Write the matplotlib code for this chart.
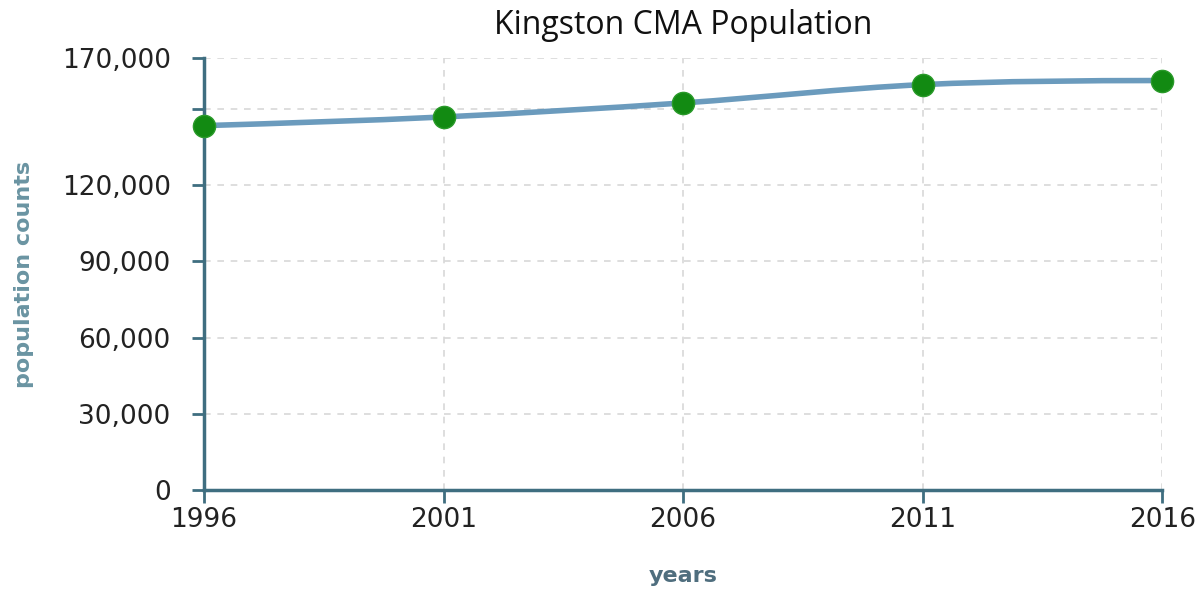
import numpy as np
import matplotlib.pyplot as plt
from matplotlib.path import Path
from matplotlib.patches import PathPatch
from matplotlib.ticker import FuncFormatter

plt.rcParams['font.family'] = 'DejaVu Sans'

years = [1996, 2001, 2006, 2011, 2016]
population = [143416, 146838, 152358, 159561, 161175]
y_ticks = [0, 30000, 60000, 90000, 120000, 150000, 170000]
y_labelled = [0, 30000, 60000, 90000, 120000, 170000]


def monotone_path(x, y):
    # cubic bezier path with monotone (Fritsch-Carlson) tangents
    x = np.asarray(x, float)
    y = np.asarray(y, float)
    h = np.diff(x)
    s = np.diff(y) / h
    m = np.zeros_like(y)
    for i in range(1, len(y) - 1):
        if s[i - 1] * s[i] <= 0:
            m[i] = 0
        else:
            m[i] = (s[i - 1] * h[i] + s[i] * h[i - 1]) / (h[i - 1] + h[i])
            m[i] = np.sign(s[i]) * min(abs(m[i]), 3 * min(abs(s[i - 1]), abs(s[i])))
    # endpoint tangents like d3 curveMonotoneX
    m[0] = (3 * s[0] - m[1]) / 2
    m[-1] = (3 * s[-1] - m[-2]) / 2
    verts = [(x[0], y[0])]
    codes = [Path.MOVETO]
    for i in range(len(x) - 1):
        d = h[i] / 3
        verts += [(x[i] + d, y[i] + m[i] * d),
                  (x[i + 1] - d, y[i + 1] - m[i + 1] * d),
                  (x[i + 1], y[i + 1])]
        codes += [Path.CURVE4] * 3
    return Path(verts, codes)


fig = plt.figure(figsize=(12, 5.96), dpi=100)
ax = fig.add_axes([0.17, 0.178, 0.7985, 0.7245])

axis_col = '#3f6e80'
ax.set_xlim(1996, 2016)
ax.set_ylim(0, 170000)

# dashed grid
for yv in y_ticks[1:]:
    ax.axhline(yv, color='#d8d8d8', lw=1.2, ls=(0, (4, 4)), zorder=0)
for xv in years[1:]:
    ax.axvline(xv, color='#d8d8d8', lw=1.2, ls=(0, (4, 4)), zorder=0)

ax.add_patch(PathPatch(monotone_path(years, population), fill=False,
                       edgecolor='#6b9bbd', lw=4, capstyle='round', zorder=2))
ax.plot(years, population, 'o', ms=16, color='#128a12',
        markeredgecolor='#2a9a2a', markeredgewidth=1, zorder=3, clip_on=False)

ax.set_xticks(years)
ax.set_yticks(y_ticks)
ax.yaxis.set_major_formatter(FuncFormatter(
    lambda v, p: f'{int(v):,}' if v in y_labelled else ''))

for side in ['top', 'right']:
    ax.spines[side].set_visible(False)
for side in ['left', 'bottom']:
    ax.spines[side].set_color(axis_col)
    ax.spines[side].set_linewidth(2.5)

ax.tick_params(axis='both', length=9, width=2, color=axis_col,
               labelsize=19, labelcolor='#222222')
ax.tick_params(axis='y', pad=15)
ax.tick_params(axis='x', pad=3)

ax.set_ylabel('population counts', fontsize=16, color='#6a94a2',
              fontweight='semibold', labelpad=20)
ax.set_xlabel('years', fontsize=16, color='#4f6e7e', fontweight='semibold',
              labelpad=24)

fig.text(0.569, 0.957, 'Kingston CMA Population', ha='center', va='center',
         fontsize=23, family='Open Sans', color='#111111')

fig.savefig('out.png', dpi=100, facecolor='white')
